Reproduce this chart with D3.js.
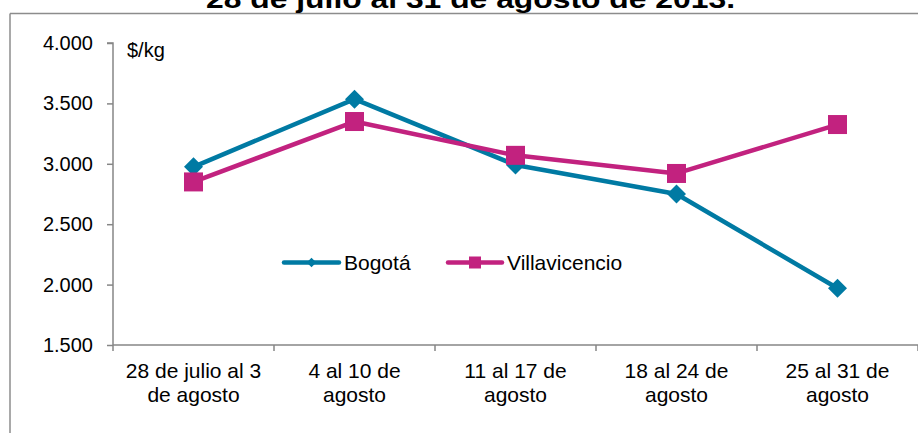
<!DOCTYPE html>
<html>
<head>
<meta charset="utf-8">
<script src="https://cdn.jsdelivr.net/npm/d3@7"></script>
<style>
  html, body { margin: 0; padding: 0; background: #fff; }
  svg { display: block; font-family: "Liberation Sans", Arial, sans-serif; }
</style>
</head>
<body>
<svg id="chart" width="918" height="433"></svg>
<script>
// ---- data ----
const title = "28 de julio al 31 de agosto de 2013.";
const unitLabel = "$/kg";
const categories = [
  ["28 de julio al 3", "de agosto"],
  ["4 al 10 de", "agosto"],
  ["11 al 17 de", "agosto"],
  ["18 al 24 de", "agosto"],
  ["25 al 31 de", "agosto"]
];
const seriesNames = ["Bogotá", "Villavicencio"];
const bogota = [2975, 3535, 2990, 2750, 1970];
const villavicencio = [2850, 3350, 3070, 2920, 3325];
const yTicks = [1500, 2000, 2500, 3000, 3500, 4000];

// ---- layout ----
const svg = d3.select("#chart");
const W = 918, H = 433;
const plotLeft = 113, plotRight = 918, plotTop = 43, plotBottom = 345;
const colors = ["#007AA3", "#C2227F"];
const axisColor = "#868686";

const catKeys = categories.map((c, i) => i);
const x = d3.scaleBand().domain(catKeys).range([plotLeft, plotRight]).padding(0);
const cx = i => x(i) + x.bandwidth() / 2;
const y = d3.scaleLinear().domain([1500, 4000]).range([plotBottom, plotTop]);

const locale = d3.formatLocale({ decimal: ",", thousands: ".", grouping: [3], currency: ["$", ""] });
const fmt = locale.format(",");

// outer border (chart area frame, partially visible)
svg.append("line").attr("x1", 10).attr("x2", W).attr("y1", 13.5).attr("y2", 13.5)
  .attr("stroke", "#8c8c8c").attr("stroke-width", 1.5);
svg.append("line").attr("x1", 10).attr("x2", 10).attr("y1", 13.5).attr("y2", H)
  .attr("stroke", "#8c8c8c").attr("stroke-width", 1.5);

// title (cut off at top, as in the reference)
svg.append("text").text(title)
  .attr("x", 206).attr("y", 7.5)
  .attr("textLength", 529).attr("lengthAdjust", "spacingAndGlyphs")
  .attr("font-weight", "bold").attr("font-size", 26).attr("fill", "#000");

// y axis
const yAxis = d3.axisLeft(y).tickValues(yTicks).tickFormat(fmt).tickSize(6).tickPadding(14);
const gy = svg.append("g").attr("transform", `translate(${plotLeft},0)`).call(yAxis);
gy.select(".domain").attr("stroke", axisColor).attr("stroke-width", 1.5)
  .attr("d", `M-6,${y(4000)}H0V${y(1500)}`);
gy.selectAll(".tick line").attr("stroke", axisColor).attr("stroke-width", 1.5);
gy.selectAll(".tick text").attr("font-size", 20).attr("fill", "#000")
  .attr("font-family", "Liberation Sans, Arial, sans-serif");

// x axis
const boundaries = catKeys.map(i => x(i)).concat([x.range()[1]]);
svg.append("line").attr("x1", plotLeft).attr("x2", plotRight).attr("y1", plotBottom).attr("y2", plotBottom)
  .attr("stroke", axisColor).attr("stroke-width", 1.5);
svg.selectAll(".xtick").data(boundaries).enter().append("line")
  .attr("x1", d => d).attr("x2", d => d).attr("y1", plotBottom).attr("y2", plotBottom + 6)
  .attr("stroke", axisColor).attr("stroke-width", 1.5);
const xl = svg.selectAll(".xlabel").data(categories).enter().append("text")
  .attr("text-anchor", "middle").attr("font-size", 21).attr("fill", "#000");
xl.each(function(lines, i) {
  const t = d3.select(this);
  lines.forEach((ln, k) => {
    t.append("tspan").attr("x", cx(i)).attr("y", 378 + k * 24).text(ln);
  });
});

// unit label
svg.append("text").text(unitLabel).attr("x", 127).attr("y", 57)
  .attr("font-size", 20).attr("fill", "#000");

// series
const diamond = s => `M0,${-s}L${s},0L0,${s}L${-s},0Z`;
const series = [
  { name: seriesNames[0], values: bogota, color: colors[0], shape: "diamond" },
  { name: seriesNames[1], values: villavicencio, color: colors[1], shape: "square" }
];
const line = d3.line().x((d, i) => cx(i)).y(d => y(d));

series.forEach(s => {
  const g = svg.append("g");
  g.append("path").datum(s.values).attr("d", line)
    .attr("fill", "none").attr("stroke", s.color).attr("stroke-width", 4.5)
    .attr("stroke-linejoin", "round");
  if (s.shape === "diamond") {
    g.selectAll("path.m").data(s.values).enter().append("path").attr("class", "m")
      .attr("d", diamond(9.5))
      .attr("transform", (d, i) => `translate(${cx(i)},${y(d)})`)
      .attr("fill", s.color);
  } else {
    g.selectAll("rect.m").data(s.values).enter().append("rect").attr("class", "m")
      .attr("x", (d, i) => cx(i) - 9.5).attr("y", d => y(d) - 9.5)
      .attr("width", 19).attr("height", 19)
      .attr("fill", s.color);
  }
});

// legend
const legendItems = [
  { x0: 284, x1: 339, tx: 344 },
  { x0: 448, x1: 502, tx: 507 }
];
const ly = 262.5;
series.forEach((s, k) => {
  const it = legendItems[k];
  const g = svg.append("g");
  g.append("line").attr("x1", it.x0).attr("x2", it.x1).attr("y1", ly).attr("y2", ly)
    .attr("stroke", s.color).attr("stroke-width", 4.5).attr("stroke-linecap", "round");
  const mx = (it.x0 + it.x1) / 2;
  if (s.shape === "diamond") {
    g.append("path").attr("d", diamond(4.8)).attr("transform", `translate(${mx},${ly})`).attr("fill", s.color);
  } else {
    g.append("rect").attr("x", mx - 6).attr("y", ly - 6).attr("width", 12).attr("height", 12).attr("fill", s.color);
  }
  g.append("text").text(s.name).attr("x", it.tx).attr("y", ly + 7.5)
    .attr("font-size", 21).attr("fill", "#000");
});
</script>
</body>
</html>
